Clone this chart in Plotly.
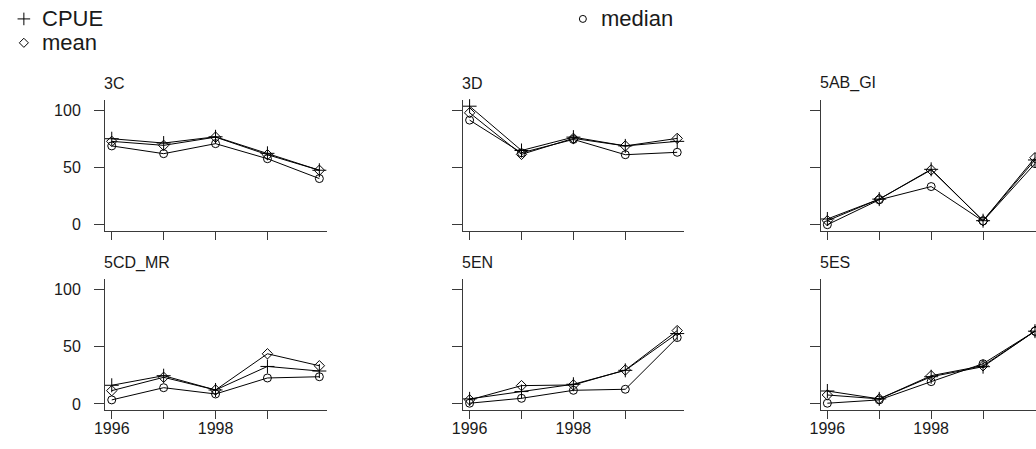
import plotly.graph_objects as go

# Survey years shared by every panel
years = [1996, 1997, 1998, 1999, 2000]

# Panel names (statistical areas), row by row
areas = ["3C", "3D", "5AB_GI", "5CD_MR", "5EN", "5ES"]

# Standardised index per area: CPUE, mean and median
cpue_3C = [75.3, 71.5, 77.0, 62.5, 47.7]
mean_3C = [73.0, 69.5, 76.7, 61.3, 47.7]
median_3C = [69.0, 62.2, 71.0, 57.8, 40.4]

cpue_3D = [103.8, 65.0, 76.7, 69.0, 73.0]
mean_3D = [98.0, 61.6, 75.6, 69.0, 75.6]
median_3D = [91.6, 63.0, 74.7, 61.3, 63.4]

cpue_5AB_GI = [5.0, 22.4, 48.5, 3.5, 56.7]
mean_5AB_GI = [3.5, 22.4, 48.0, 3.5, 58.7]
median_5AB_GI = [0.0, 21.8, 33.4, 3.2, 53.5]

cpue_5CD_MR = [16.3, 24.7, 12.2, 32.8, 28.8]
mean_5CD_MR = [11.6, 23.3, 12.2, 43.9, 33.4]
median_5CD_MR = [3.5, 14.2, 8.7, 22.7, 23.8]

cpue_5EN = [4.4, 10.8, 17.2, 29.4, 61.6]
mean_5EN = [3.5, 16.0, 16.6, 29.7, 64.2]
median_5EN = [0.6, 4.9, 11.9, 12.8, 58.1]

cpue_5ES = [11.3, 4.4, 23.8, 32.6, 63.7]
mean_5ES = [7.8, 4.4, 24.7, 33.4, 63.7]
median_5ES = [0.6, 3.5, 19.5, 35.2, 63.7]

series = {
    "3C": (cpue_3C, mean_3C, median_3C),
    "3D": (cpue_3D, mean_3D, median_3D),
    "5AB_GI": (cpue_5AB_GI, mean_5AB_GI, median_5AB_GI),
    "5CD_MR": (cpue_5CD_MR, mean_5CD_MR, median_5CD_MR),
    "5EN": (cpue_5EN, mean_5EN, median_5EN),
    "5ES": (cpue_5ES, mean_5ES, median_5ES),
}

x_ticks = [1996, 1997, 1998, 1999]
x_ticktext = ["1996", "", "1998", ""]
y_ticks = [0, 50, 100]
y_ticktext = ["0", "50", "100"]

legend_names = ["CPUE", "mean", "median"]
symbols = ["cross-thin-open", "diamond-open", "circle-open"]
sizes = [10, 8, 8]

# ---- page geometry (pixels) ----
W, H = 1036, 449
FONT = "Liberation Sans"
AX = "#3a3a3a"
TXT = "#1a1a1a"
col_left = [95.0, 456.7, 818.3]
panel_w = 224.0
row_top = [100.7, 280.7]
panel_h = 131.6
x_range = [1995.87, 2000.14]
y_range = [-5.75, 109.0]

fig = go.Figure()
layout_axes = {}

for i, area in enumerate(areas):
    r, c = divmod(i, 3)
    n = i + 1
    xa = "xaxis" if n == 1 else f"xaxis{n}"
    ya = "yaxis" if n == 1 else f"yaxis{n}"
    xref = "x" if n == 1 else f"x{n}"
    yref = "y" if n == 1 else f"y{n}"

    left = col_left[c]
    right = left + panel_w
    xr = list(x_range)
    if right > W:
        # panel runs off the page edge: keep the same scale, cut the range
        xr[1] = xr[0] + (W - left) / panel_w * (x_range[1] - x_range[0])
        right = W
    top = row_top[r]
    bottom = top + panel_h

    layout_axes[xa] = dict(
        domain=[left / W, right / W], range=xr, anchor=yref,
        tickvals=x_ticks, ticktext=x_ticktext, showticklabels=(r == 1),
        ticks="outside", ticklen=8, tickwidth=1, tickcolor=AX,
        showline=True, linecolor=AX, linewidth=1,
        showgrid=False, zeroline=False, fixedrange=True,
        tickfont=dict(family=FONT, size=16, color=TXT),
        ticklabelstandoff=-5,
    )
    layout_axes[ya] = dict(
        domain=[1 - bottom / H, 1 - top / H], range=y_range, anchor=xref,
        tickvals=y_ticks, ticktext=y_ticktext, showticklabels=(c == 0),
        ticks="outside", ticklen=10, tickwidth=1, tickcolor=AX,
        showline=True, linecolor=AX, linewidth=1,
        showgrid=False, zeroline=False, fixedrange=True,
        tickfont=dict(family=FONT, size=16, color=TXT),
        ticklabelstandoff=10,
    )

    for vals, name, sym, sz in zip(series[area], legend_names, symbols, sizes):
        fig.add_trace(go.Scatter(
            x=years, y=vals, name=name, mode="lines+markers",
            xaxis=xref, yaxis=yref, showlegend=False, cliponaxis=False,
            line=dict(color="black", width=1),
            marker=dict(symbol=sym, size=sz, color="black",
                        line=dict(color="black", width=1)),
        ))

    fig.add_annotation(
        text=area, xref="paper", yref="paper",
        x=(left - 3) / W, y=1 - (top - 17) / H, xanchor="left", yanchor="middle",
        showarrow=False, font=dict(family=FONT, size=16, color=TXT),
    )

# ---- key at the top of the page (pixel overlay axis) ----
key_x = [13, 13, 578]
key_y = [19, 43, 19]
layout_axes["xaxis7"] = dict(domain=[0, 1], range=[0, W], visible=False,
                             anchor="y7", fixedrange=True)
layout_axes["yaxis7"] = dict(domain=[0, 1], range=[H, 0], visible=False,
                             anchor="x7", fixedrange=True)
for kx, ky, sym, sz in zip(key_x, key_y, symbols, sizes):
    fig.add_trace(go.Scatter(
        x=[kx], y=[ky], mode="markers", xaxis="x7", yaxis="y7",
        showlegend=False, hoverinfo="skip", cliponaxis=False,
        marker=dict(symbol=sym, size=sz - 1, color="black",
                    line=dict(color="black", width=1)),
    ))
for kx, ky, name in zip(key_x, key_y, legend_names):
    fig.add_annotation(
        text=name, xref="paper", yref="paper",
        x=(kx + 16) / W, y=1 - ky / H, xanchor="left", yanchor="middle",
        showarrow=False, font=dict(family=FONT, size=22, color=TXT),
    )

fig.update_layout(
    width=W, height=H, margin=dict(l=0, r=0, t=0, b=0),
    paper_bgcolor="white", plot_bgcolor="rgba(0,0,0,0)",
    showlegend=False, **layout_axes,
)

fig.write_html(
    "out.html",
    post_script="document.body.style.margin='0';document.body.style.overflow='hidden';",
)
